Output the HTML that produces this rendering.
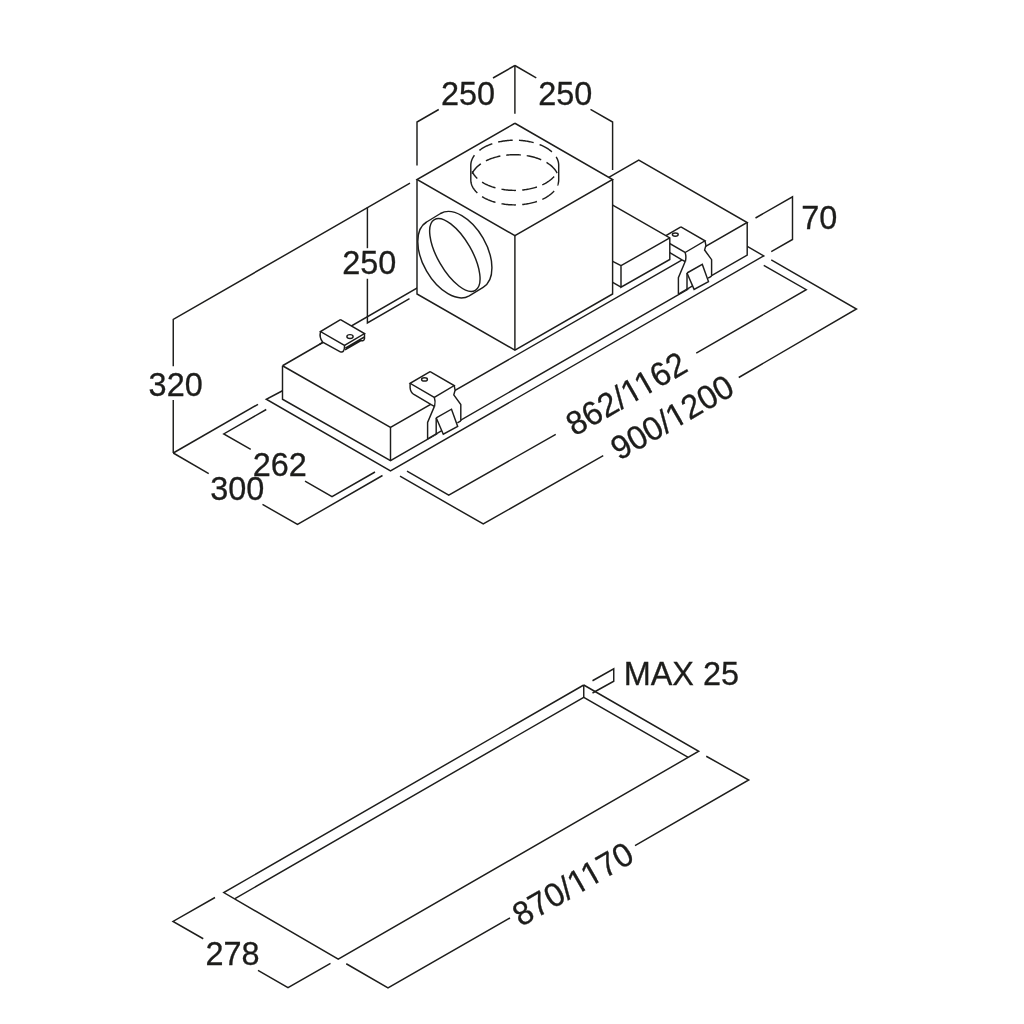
<!DOCTYPE html>
<html><head><meta charset="utf-8"><title>Dimensions</title>
<style>
html,body{margin:0;padding:0;background:#fff;}
body{width:1024px;height:1024px;overflow:hidden;font-family:"Liberation Sans",sans-serif;}
svg{display:block;will-change:transform;}
svg path, svg ellipse{fill:none;stroke:#1d1d1b;stroke-width:1.45;stroke-linecap:butt;stroke-linejoin:miter;}
svg path[fill="#fff"]{fill:#fff;stroke:none;}
svg text{font-family:"Liberation Sans",sans-serif;fill:#1d1d1b;stroke:#1d1d1b;stroke-width:0.3;}
</style></head>
<body>
<svg width="1024" height="1024" viewBox="0 0 1024 1024">
<rect width="1024" height="1024" fill="#fff"/>
<path d="M282.50,390.75 L266.25,399.25 L390.50,471.00 L763.75,255.90 L747.30,246.40"/>
<path d="M282.50,365.75 L638.75,160.00 L747.20,222.50 L747.20,255.20 L390.50,460.60 L282.50,399.25Z" fill="#fff"/>
<path d="M282.50,365.75 L638.75,160.00 L747.20,222.50 L390.50,427.50 L282.50,365.75"/>
<path d="M282.50,365.75 L282.50,399.25 L390.50,460.60 L747.20,255.20 L747.20,222.50"/>
<path d="M390.50,427.50 L390.50,460.60"/>
<path d="M680.90,226.80 L660.90,238.50 L660.90,243.30 L664.40,249.60 L682.00,259.70 L684.80,261.30 L678.40,277.70 L678.40,294.10 L687.00,289.60 L694.10,289.40 L708.50,281.60 L708.00,278.10 L711.60,276.10 L711.60,259.70 L704.60,250.00 L705.80,245.70 L705.00,240.80Z" fill="#fff"/>
<path d="M680.90,226.80 L660.90,238.50 L685.10,252.50 L705.00,240.80 L680.90,226.80" stroke-width="1.05" stroke-linejoin="round"/>
<path d="M660.90,238.50 L660.90,243.00 Q661.20,247.50 664.70,249.70 L682.00,259.80 L685.10,261.50" stroke-width="1.05"/>
<path d="M685.10,252.50 Q686.50,256.50 685.40,261.50" stroke-width="1.05"/>
<path d="M685.30,261.30 L678.40,277.70 L678.40,294.10" stroke-width="1.05"/>
<path d="M705.00,240.80 L705.90,245.40 L704.60,250.00 L711.60,259.70 L711.60,276.10" stroke-width="1.05"/>
<path d="M687.00,273.00 L702.30,264.40 L708.50,281.60 L694.10,289.40 L687.00,273.00" stroke-width="1.05" stroke-linejoin="round"/>
<path d="M687.00,273.00 L687.00,290.00" stroke-width="1.05"/>
<path d="M678.40,294.10 L692.60,285.90" stroke-width="1.05"/>
<path d="M711.60,276.10 L708.20,278.10" stroke-width="1.05"/>
<ellipse cx="675.30" cy="234.60" rx="2.9" ry="1.7" stroke-width="0.9"/>
<path d="M612.70,205.10 L669.80,237.85 L669.80,259.50 L621.00,287.20 L612.70,282.30 L612.70,205.10Z" fill="#fff"/>
<path d="M612.70,205.10 L669.80,237.85 L669.80,259.50 L621.00,287.20 L621.00,265.70 L669.80,237.85"/>
<path d="M612.70,261.30 L621.00,265.70"/>
<path d="M612.70,282.30 L621.00,287.20"/>
<path d="M514.90,123.25 L612.60,179.50 L612.60,294.00 L514.90,350.10 L417.00,294.00 L417.00,179.50Z" fill="#fff"/>
<path d="M514.90,123.25 L417.00,179.50 L514.90,235.60 L612.60,179.50 L514.90,123.25"/>
<path d="M417.00,179.50 L417.00,294.00 L514.90,350.10 L612.60,294.00 L612.60,179.50"/>
<path d="M514.90,235.60 L514.90,350.10"/>
<path d="M551.90,151.89 L551.20,151.28 L550.47,150.68 L549.71,150.09 L548.93,149.52 L548.11,148.96 L547.26,148.41 L546.39,147.88 L545.49,147.36 L544.57,146.86 L543.62,146.37 L542.64,145.90 L541.64,145.45 L540.62,145.01 L539.58,144.59" stroke-width="1.45"/>
<path d="M533.67,142.65 L532.68,142.38 L531.67,142.13 L530.65,141.90 L529.63,141.68 L528.59,141.48 L527.55,141.29 L526.50,141.11 L525.44,140.95 L524.37,140.81 L523.30,140.68 L522.22,140.57 L521.14,140.47 L520.05,140.38 L518.96,140.32" stroke-width="1.45"/>
<path d="M512.68,140.23 L511.62,140.26 L510.56,140.31 L509.50,140.38 L508.45,140.46 L507.40,140.55 L506.35,140.66 L505.31,140.79 L504.28,140.92 L503.25,141.07 L502.23,141.24 L501.21,141.42 L500.20,141.61 L499.20,141.82 L498.21,142.04" stroke-width="1.45"/>
<path d="M492.31,143.72 L491.25,144.09 L490.20,144.48 L489.17,144.89 L488.17,145.31 L487.19,145.75 L486.22,146.21 L485.28,146.68 L484.37,147.16 L483.48,147.66 L482.61,148.18 L481.78,148.71 L480.96,149.25 L480.18,149.80 L479.42,150.37" stroke-width="1.45"/>
<path d="M472.11,171.37 L472.35,171.91 L472.61,172.43 L472.90,172.96 L473.20,173.48 L473.53,174.00 L473.87,174.52 L474.23,175.03 L474.62,175.53 L475.02,176.03 L475.44,176.53 L475.88,177.02 L476.34,177.50 L476.82,177.98 L477.32,178.45" stroke-width="1.45"/>
<path d="M482.09,182.10 L482.91,182.60 L483.75,183.09 L484.62,183.57 L485.50,184.04 L486.42,184.49 L487.35,184.92 L488.30,185.35 L489.27,185.75 L490.26,186.14 L491.27,186.52 L492.30,186.88 L493.35,187.22 L494.41,187.55 L495.48,187.86" stroke-width="1.45"/>
<path d="M501.53,189.24 L502.54,189.41 L503.54,189.57 L504.56,189.72 L505.58,189.85 L506.61,189.97 L507.64,190.07 L508.67,190.16 L509.71,190.23 L510.75,190.30 L511.79,190.34 L512.84,190.38 L513.88,190.40 L514.93,190.40 L515.98,190.39" stroke-width="1.45"/>
<path d="M522.23,190.03 L523.33,189.92 L524.43,189.78 L525.53,189.63 L526.61,189.47 L527.69,189.29 L528.76,189.09 L529.82,188.88 L530.87,188.65 L531.91,188.41 L532.94,188.15 L533.95,187.88 L534.96,187.59 L535.95,187.29 L536.92,186.97" stroke-width="1.45"/>
<path d="M542.29,184.86 L543.33,184.37 L544.35,183.85 L545.34,183.32 L546.30,182.77 L547.23,182.21 L548.13,181.62 L549.00,181.03 L549.84,180.42 L550.64,179.79 L551.41,179.15 L552.14,178.49 L552.83,177.83 L553.49,177.15 L554.12,176.46" stroke-width="1.45"/>
<path d="M557.10,173.09 L556.66,172.25 L556.17,171.41 L555.63,170.58 L555.04,169.77 L554.40,168.97 L553.70,168.18 L552.96,167.40 L552.18,166.64 L551.34,165.90 L550.47,165.17 L549.54,164.47 L548.58,163.78 L547.57,163.11 L546.52,162.46" stroke-width="1.45"/>
<path d="M541.20,159.75 L540.26,159.36 L539.31,158.98 L538.34,158.62 L537.35,158.27 L536.34,157.94 L535.33,157.62 L534.29,157.32 L533.24,157.03 L532.18,156.76 L531.11,156.50 L530.03,156.27 L528.93,156.04 L527.83,155.84 L526.72,155.65" stroke-width="1.45"/>
<path d="M520.79,154.94 L519.76,154.86 L518.72,154.80 L517.68,154.76 L516.65,154.72 L515.60,154.70 L514.56,154.70 L513.52,154.71 L512.48,154.73 L511.44,154.77 L510.41,154.82 L509.37,154.89 L508.34,154.97 L507.31,155.06 L506.29,155.17" stroke-width="1.45"/>
<path d="M500.37,156.08 L499.24,156.31 L498.12,156.57 L497.02,156.83 L495.93,157.12 L494.85,157.42 L493.79,157.74 L492.74,158.07 L491.71,158.42 L490.70,158.79 L489.70,159.17 L488.73,159.57 L487.77,159.99 L486.83,160.41 L485.92,160.86" stroke-width="1.45"/>
<path d="M480.89,163.80 L480.01,164.43 L479.17,165.07 L478.36,165.72 L477.59,166.39 L476.86,167.08 L476.17,167.77 L475.52,168.48 L474.91,169.20 L474.34,169.94 L473.81,170.68 L473.32,171.43 L472.87,172.19 L472.47,172.95 L472.11,173.73" stroke-width="1.45"/>
<path d="M482.09,196.60 L482.91,197.10 L483.75,197.59 L484.62,198.07 L485.50,198.54 L486.42,198.99 L487.35,199.42 L488.30,199.85 L489.27,200.25 L490.26,200.64 L491.27,201.02 L492.30,201.38 L493.35,201.72 L494.41,202.05 L495.48,202.36" stroke-width="1.45"/>
<path d="M501.53,203.74 L502.54,203.91 L503.54,204.07 L504.56,204.22 L505.58,204.35 L506.61,204.47 L507.64,204.57 L508.67,204.66 L509.71,204.73 L510.75,204.80 L511.79,204.84 L512.84,204.88 L513.88,204.90 L514.93,204.90 L515.98,204.89" stroke-width="1.45"/>
<path d="M522.23,204.53 L523.33,204.42 L524.43,204.28 L525.53,204.13 L526.61,203.97 L527.69,203.79 L528.76,203.59 L529.82,203.38 L530.87,203.15 L531.91,202.91 L532.94,202.65 L533.95,202.38 L534.96,202.09 L535.95,201.79 L536.92,201.47" stroke-width="1.45"/>
<path d="M542.29,199.36 L543.33,198.87 L544.35,198.35 L545.34,197.82 L546.30,197.27 L547.23,196.71 L548.13,196.12 L549.00,195.53 L549.84,194.92 L550.64,194.29 L551.41,193.65 L552.14,192.99 L552.83,192.33 L553.49,191.65 L554.12,190.96" stroke-width="1.45"/>
<path d="M474.45,155.29 L473.95,155.97 L473.49,156.66 L473.06,157.35 L472.67,158.05 L472.32,158.76 L472.00,159.47 L471.72,160.19 L471.48,160.91 L471.27,161.64 L471.10,162.37 L470.97,163.10 L470.88,163.83 L470.82,164.56 L470.80,165.30 L470.80,179.80 L470.83,180.79 L470.94,181.78 L471.11,182.76 L471.34,183.74 L471.65,184.71 L472.02,185.68 L472.46,186.63 L472.96,187.58 L473.53,188.51 L474.17,189.43 L474.86,190.34 L475.62,191.23 L476.44,192.10 L477.32,192.95" stroke-width="1.45"/>
<path d="M556.18,156.92 L556.52,157.50 L556.84,158.08 L557.14,158.67 L557.41,159.26 L557.65,159.85 L557.87,160.45 L558.07,161.05 L558.23,161.65 L558.38,162.26 L558.49,162.86 L558.58,163.47 L558.65,164.08 L558.69,164.69 L558.70,165.30 L558.70,179.80 L558.69,180.21 L558.68,180.61 L558.65,181.02 L558.61,181.43 L558.56,181.83 L558.49,182.24 L558.42,182.64 L558.33,183.05 L558.23,183.45 L558.12,183.85 L558.00,184.25 L557.87,184.65 L557.73,185.05 L557.57,185.45" stroke-width="1.45"/>
<path d="M440.5,213.5 A42.6,24.6 60 0 1 483.1,238.1 A42.6,24.6 60 0 1 483.1,287.3 L469.2,295.8 A42.6,24.6 60 0 1 426.6,271.2 A42.6,24.6 60 0 1 426.6,222 Z" stroke-width="1.25"/>
<ellipse cx="454.85" cy="254.95" rx="40.9" ry="17" transform="rotate(60 454.85 254.95)" stroke-width="1.25"/>
<path d="M430.10,371.60 L410.10,383.30 L410.10,388.10 L413.60,394.40 L431.20,404.50 L434.00,406.10 L427.60,422.50 L427.60,438.90 L436.20,434.40 L443.30,434.20 L457.70,426.40 L457.20,422.90 L460.80,420.90 L460.80,404.50 L453.80,394.80 L455.00,390.50 L454.20,385.60Z" fill="#fff"/>
<path d="M430.10,371.60 L410.10,383.30 L434.30,397.30 L454.20,385.60 L430.10,371.60" stroke-width="1.05" stroke-linejoin="round"/>
<path d="M410.10,383.30 L410.10,387.80 Q410.40,392.30 413.90,394.50 L431.20,404.60 L434.30,406.30" stroke-width="1.05"/>
<path d="M434.30,397.30 Q435.70,401.30 434.60,406.30" stroke-width="1.05"/>
<path d="M434.50,406.10 L427.60,422.50 L427.60,438.90" stroke-width="1.05"/>
<path d="M454.20,385.60 L455.10,390.20 L453.80,394.80 L460.80,404.50 L460.80,420.90" stroke-width="1.05"/>
<path d="M436.20,417.80 L451.50,409.20 L457.70,426.40 L443.30,434.20 L436.20,417.80" stroke-width="1.05" stroke-linejoin="round"/>
<path d="M436.20,417.80 L436.20,434.80" stroke-width="1.05"/>
<path d="M427.60,438.90 L441.80,430.70" stroke-width="1.05"/>
<path d="M460.80,420.90 L457.40,422.90" stroke-width="1.05"/>
<ellipse cx="424.50" cy="379.40" rx="2.9" ry="1.7" stroke-width="0.9"/>
<path d="M340.50,319.70 L320.30,331.60 L320.00,337.00 L322.70,342.20 L340.60,352.00 L344.50,350.80 L345.00,347.00 L364.60,338.50 L364.50,333.60Z" fill="#fff"/>
<path d="M340.50,319.70 L320.50,331.60 L344.50,345.30 L364.50,333.60 L340.50,319.70" stroke-width="1.05" stroke-linejoin="round"/>
<path d="M320.5,331.6 Q319,337.5 322.7,342.2 L340.3,351.8 Q344.5,353.5 344.6,345.3" stroke-width="1.05"/>
<path d="M345.3,348.1 L364.4,337.0 M364.5,333.6 L364.5,339.0 M345.0,349.8 L361,340.5 Q363.6,341.6 364.5,339.0" stroke-width="1.0"/>
<ellipse cx="350" cy="336.5" rx="3.1" ry="1.9" stroke-width="0.9"/>
<path d="M319.50,344.40 L322.70,342.40"/>
<path d="M514.90,65.50 L514.90,113.75"/>
<path d="M514.90,65.50 L493.00,78.00"/>
<path d="M438.75,109.50 L417.00,122.00 L417.00,165.50"/>
<path d="M514.90,65.50 L536.25,77.80"/>
<path d="M590.50,109.30 L612.60,122.00 L612.60,170.00"/>
<path d="M410.00,183.20 L173.25,319.40 L173.25,366.25"/>
<path d="M173.25,400.00 L173.25,453.00"/>
<path d="M173.25,453.00 L258.00,404.30"/>
<path d="M173.25,453.00 L208.75,473.60"/>
<path d="M262.50,504.40 L297.50,524.50 L382.50,475.50"/>
<path d="M266.25,409.50 L223.75,433.90 L250.75,449.40"/>
<path d="M305.00,481.20 L332.00,496.60 L375.00,472.00"/>
<path d="M367.40,207.30 L367.40,248.20"/>
<path d="M367.40,278.75 L367.40,323.00 L409.50,298.70"/>
<path d="M755.50,218.00 L792.50,196.80 L792.50,239.50 L771.25,251.60"/>
<path d="M763.75,265.30 L806.25,289.70 L696.25,353.20"/>
<path d="M555.75,434.40 L448.75,495.20 L407.00,471.20"/>
<path d="M771.25,259.80 L856.50,309.00 L738.75,377.50"/>
<path d="M603.25,455.70 L483.25,524.00 L400.00,476.20"/>
<path d="M583.75,685.00 L698.75,751.25 L338.25,959.25 L223.75,892.60 L583.75,685.00"/>
<path d="M583.75,685.00 L583.75,697.50"/>
<path d="M235.00,898.60 L583.75,697.30 L687.80,757.20"/>
<path d="M592.50,680.75 L613.75,668.75 L613.75,681.25 L592.50,693.00"/>
<path d="M706.25,756.25 L748.75,780.00 L635.00,845.60"/>
<path d="M510.00,918.00 L388.00,987.80 L346.25,963.75"/>
<path d="M215.00,897.50 L173.00,921.40 L203.25,938.75"/>
<path d="M258.00,970.30 L288.00,987.60 L330.50,963.40"/>
<text transform="translate(441.00,104.80) rotate(0) scale(0.971,1)" font-size="33.4" text-anchor="start">250</text>
<text transform="translate(538.20,104.80) rotate(0) scale(0.971,1)" font-size="33.4" text-anchor="start">250</text>
<text transform="translate(342.20,274.30) rotate(0) scale(0.971,1)" font-size="33.4" text-anchor="start">250</text>
<text transform="translate(148.60,395.50) rotate(0) scale(0.971,1)" font-size="33.4" text-anchor="start">320</text>
<text transform="translate(252.70,476.00) rotate(0) scale(0.971,1)" font-size="33.4" text-anchor="start">262</text>
<text transform="translate(210.30,500.00) rotate(0) scale(0.971,1)" font-size="33.4" text-anchor="start">300</text>
<text transform="translate(801.20,229.00) rotate(0) scale(0.971,1)" font-size="33.4" text-anchor="start">70</text>
<text transform="translate(623.70,685.00) rotate(0) scale(0.971,1)" font-size="33.4" text-anchor="start">MAX 25</text>
<text transform="translate(205.50,964.50) rotate(0) scale(0.971,1)" font-size="33.4" text-anchor="start">278</text>
<text transform="translate(574.50,436.80) rotate(-30) scale(0.971,1)" font-size="33.4" text-anchor="start">862/1162</text>
<g transform="translate(574.50,436.80) rotate(-30) scale(0.971,1)"><path fill="#fff" d="M66.62,0.90 H73.28 V-3.40 H66.62Z M76.43,0.90 H82.82 V-3.40 H76.43Z"/></g>
<g transform="translate(574.50,436.80) rotate(-30) scale(0.971,1)"><path fill="#fff" d="M82.71,0.90 H89.37 V-3.40 H82.71Z M92.52,0.90 H98.91 V-3.40 H92.52Z"/></g>
<text transform="translate(619.30,461.00) rotate(-30) scale(0.971,1)" font-size="33.4" text-anchor="start">900/1200</text>
<g transform="translate(619.30,461.00) rotate(-30) scale(0.971,1)"><path fill="#fff" d="M66.62,0.90 H73.28 V-3.40 H66.62Z M76.43,0.90 H82.82 V-3.40 H76.43Z"/></g>
<text transform="translate(521.00,927.20) rotate(-30) scale(0.971,1)" font-size="33.4" text-anchor="start">870/1170</text>
<g transform="translate(521.00,927.20) rotate(-30) scale(0.971,1)"><path fill="#fff" d="M66.62,0.90 H73.28 V-3.40 H66.62Z M76.43,0.90 H82.82 V-3.40 H76.43Z"/></g>
<g transform="translate(521.00,927.20) rotate(-30) scale(0.971,1)"><path fill="#fff" d="M82.71,0.90 H89.37 V-3.40 H82.71Z M92.52,0.90 H98.91 V-3.40 H92.52Z"/></g>
</svg>
</body></html>
